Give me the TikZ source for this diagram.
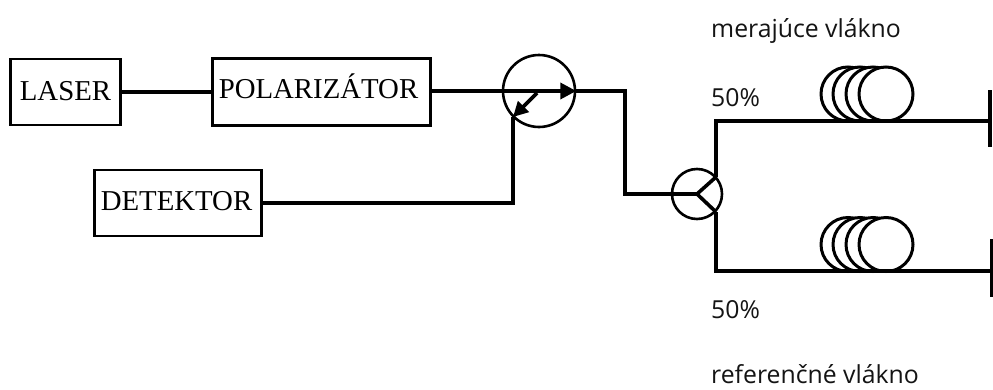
\documentclass[tikz,border=0pt]{standalone}
\usepackage{fontspec}
\setmainfont{Liberation Serif}
\newfontfamily\labelfont{Open Sans}
\usetikzlibrary{arrows.meta}
\tikzset{
    devicebox/.style={draw, line width=2.6pt, fill=white, inner sep=0pt, text height=19pt, font=\fontsize{28.8}{30}\selectfont},
    fiber/.style={line width=3.6pt},
    ring/.style={circle, draw, line width=2.6pt, inner sep=0pt},
    coilring/.style={circle, draw, line width=3pt, fill=white, inner sep=0pt, minimum size=54pt},
    caption/.style={anchor=base west, inner sep=0pt, font=\labelfont\fontsize{24.8}{26}\selectfont, text=black!92}
}
\begin{document}
\begin{tikzpicture}[x=1pt, y=-1pt]
        \useasboundingbox[fill=white] (0,0) rectangle (993,389);

        \node[devicebox, text depth=3pt, minimum width=110pt, minimum height=66pt] (laser) at (65.5,92) {LASER};
        \node[devicebox, text depth=7pt, minimum width=218pt, minimum height=67pt] (polar) at (321.5,92) {POLARIZÁTOR\kern6pt};
        \node[devicebox, text depth=5pt, minimum width=167pt, minimum height=66pt] (detektor) at (178,203) {DETEKTOR\kern3pt};

        \node[ring, minimum size=72pt] (circ) at (539,91) {};
        \node[ring, minimum size=50pt] (split) at (697,194) {};

        \coordinate (detin) at (513,117);
        \coordinate (innerstart) at (537,93);
        \coordinate (splitm) at (716,177);
        \coordinate (splitr) at (716,212);
        \coordinate (turnm) at (716,121);
        \coordinate (turnr) at (716,271);
        \coordinate (endm) at (990,121);
        \coordinate (endr) at (992,271);
        \coordinate (endmtop) at (990,90);
        \coordinate (endmbot) at (990,147);
        \coordinate (endrtop) at (992,239);
        \coordinate (endrbot) at (992,297);

        % coils
        \foreach \cx [count=\i] in {848,860,873,886} {
            \node[coilring] (coilm\i) at (\cx,94) {};
            \node[coilring] (coilr\i) at (\cx,244.5) {};
        }

        \draw[fiber] (laser) -- (polar);
        \draw[fiber, -{Triangle[length=16pt, width=16pt]}] (polar.east |- circ) -- (circ.east);
        \draw[fiber] (circ.east) -- (625,91) |- (split.center);
        \draw[fiber] (detektor) -| (detin);
        \draw[fiber, -{Triangle[length=15pt, width=15pt]}] (innerstart) -- (detin);

        \draw[fiber] (split.center) -- (splitm);
        \draw[fiber] (split.center) -- (splitr);
        \draw[fiber, line join=miter] (splitm) -- (turnm) -- (endm);
        \draw[fiber, line join=miter] (splitr) -- (turnr) -- (endr);
        \draw[fiber] (endmtop) -- (endmbot);
        \draw[fiber] (endrtop) -- (endrbot);

        \node[caption] (meraj) at (711,37) {merajúce vlákno};
        \node[caption] (pctm) at (711,106) {50\%};
        \node[caption] (pctr) at (711,318) {50\%};
        \node[caption] (refer) at (711,383) {referenčné vlákno};
    \end{tikzpicture}
\end{document}
